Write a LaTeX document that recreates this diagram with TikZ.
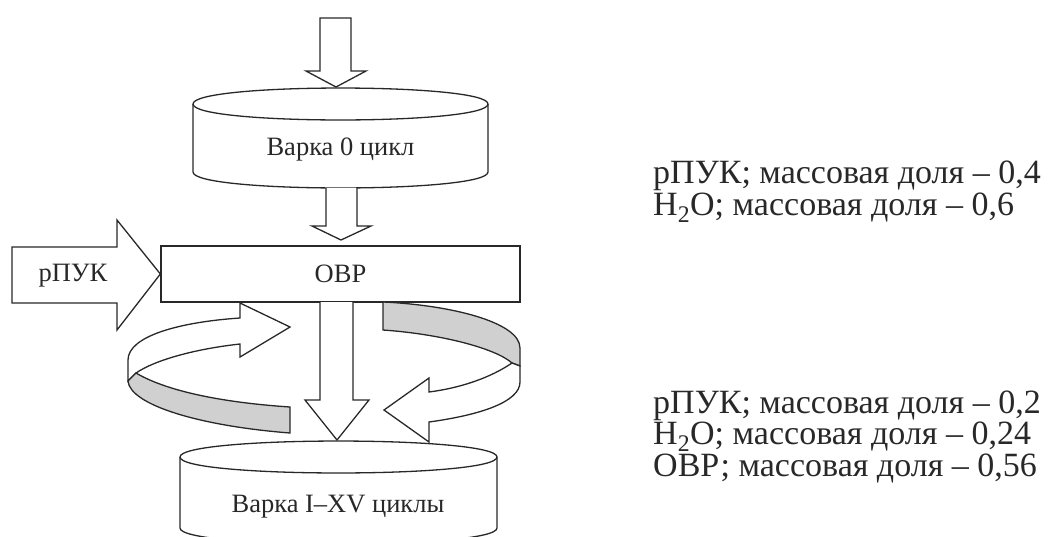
\documentclass[tikz,border=0pt]{standalone}
\usepackage{fontspec}
\setmainfont{Liberation Serif}
\definecolor{ribbon}{RGB}{208,208,208}
\definecolor{ink}{RGB}{40,40,40}
\begin{document}
\begin{tikzpicture}[x=1pt,y=-1pt,
  outl/.style={draw=ink,line width=1.3pt,line join=miter},
  lbl/.style={font=\fontsize{26.5}{32}\selectfont,inner sep=0pt,text=ink},
  note/.style={font=\fontsize{34}{32}\selectfont,inner sep=0pt,anchor=base west,text=ink}]
\clip (0,0) rectangle (1051,536);
\useasboundingbox (0,0) rectangle (1051,536);

% top inflow arrow
\draw[outl,fill=white] (320,18) -- (351,18) -- (351,71) -- (366,71) -- (336,87) -- (306,71) -- (320,71) -- cycle;

% top cylinder
\draw[outl,fill=white] (193,104) -- (193,172) .. controls (193,193.3) and (488,193.3) .. (488,172)
  -- (488,104) .. controls (488,82.7) and (193,82.7) .. (193,104) -- cycle;
\draw[outl] (193,104) .. controls (193,125.3) and (488,125.3) .. (488,104);
\node[lbl] (v0) at (340.5,150) {Варка 0 цикл};

% arrow cylinder -> OVR
\draw[outl,fill=white] (326,188) -- (326,226) -- (312,226) -- (341,240) -- (371,226) -- (357,226) -- (357,188);

% OVR box
\node[draw=ink,line width=1.3pt,minimum width=359pt,minimum height=56pt,lbl] (ovr) at (340.5,274) {ОВР};

% rPUK arrow
\draw[outl,fill=white] (12,247) -- (117,247) -- (117,220) -- (ovr.west) -- (117,330) -- (117,303) -- (12,303) -- cycle;
\node[lbl] (rpuk) at (73,276) {рПУК};

% lower cylinder
\draw[outl,fill=white] (180,457) -- (180,528) .. controls (180,549.3) and (497,549.3) .. (497,528)
  -- (497,457) .. controls (497,435.7) and (180,435.7) .. (180,457) -- cycle;
\draw[outl] (180,457) .. controls (180,478.3) and (497,478.3) .. (497,457);
\node[lbl] (v115) at (338,507) {Варка I–XV циклы};

% arrow OVR -> lower cylinder
\draw[outl,fill=white] (320,302) -- (320,400) -- (305,400) -- (337,440) -- (369,400) -- (353,400) -- (353,302);

% left ribbon: white back part with arrow head
\draw[outl,fill=white] (240,318) .. controls (180,322) and (128,336) .. (128,360) -- (128,381)
  -- (136,373) .. controls (155,360) and (195,349) .. (240,344) -- (240,357) -- (290,327) -- (240,303) -- cycle;
% left ribbon: grey front part
\draw[outl,fill=ribbon] (136,373) .. controls (170,393) and (230,403) .. (290,407) -- (290,433)
  .. controls (200,426) and (130,405) .. (128,381) -- cycle;

% right ribbon: grey back part
\draw[outl,fill=ribbon] (383,302) .. controls (450,305) and (520,322) .. (520,348) -- (520,366)
  -- (512,363) .. controls (495,348) and (440,334) .. (383,330) -- cycle;
% right ribbon: white front part with arrow head
\draw[outl,fill=white] (512,363) .. controls (490,378) and (460,388) .. (429,392) -- (429,378) -- (384,410)
  -- (429,442) -- (429,422) .. controls (480,415) and (520,402) .. (520,382) -- (520,366) -- cycle;

% composition notes
\node[note] (a1) at (653,183) {рПУК; массовая доля – 0,4};
\node[note] (a2) at (653,215) {H\textsubscript{2}O; массовая доля – 0,6};
\node[note] (b1) at (653,413) {рПУК; массовая доля – 0,2};
\node[note] (b2) at (653,444.5) {H\textsubscript{2}O; массовая доля – 0,24};
\node[note] (b3) at (653,476) {ОВР; массовая доля – 0,56};
\end{tikzpicture}
\end{document}
